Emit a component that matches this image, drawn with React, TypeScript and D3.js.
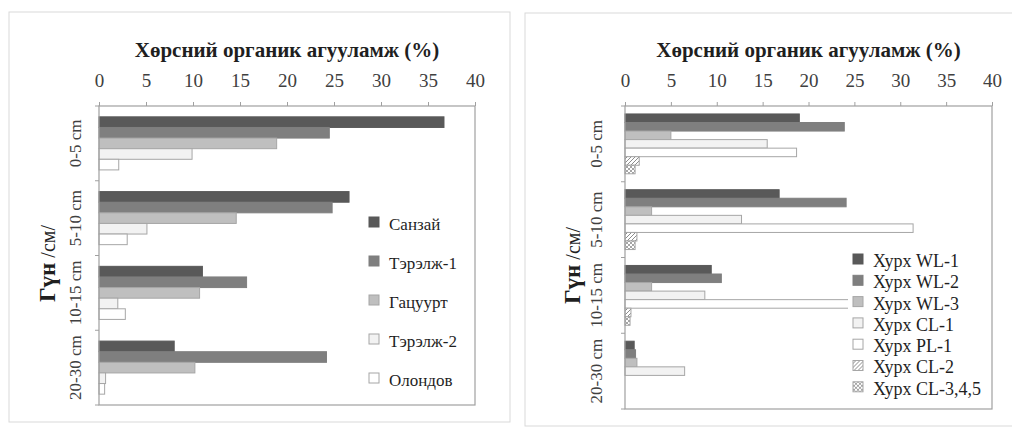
import { useEffect, useRef } from 'react';
import * as d3 from 'd3';

const depths = ['0-5 cm', '5-10 cm', '10-15 cm', '20-30 cm'];
const xTicks = [0, 5, 10, 15, 20, 25, 30, 35, 40];
const titleText = 'Хөрсний органик агууламж (%)';

// left chart
const leftNames = ['Санзай', 'Тэрэлж-1', 'Гацуурт', 'Тэрэлж-2', 'Олондов'];
const sanzai = [36.7, 26.6, 11.0, 8.0];
const terelj1 = [24.5, 24.8, 15.7, 24.2];
const gatsuurt = [18.9, 14.6, 10.7, 10.2];
const terelj2 = [9.9, 5.1, 2.0, 0.7];
const olondov = [2.1, 3.0, 2.8, 0.6];

// right chart
const rightNames = ['Хурх WL-1', 'Хурх WL-2', 'Хурх WL-3', 'Хурх CL-1', 'Хурх PL-1', 'Хурх CL-2', 'Хурх CL-3,4,5'];
const wl1 = [19.0, 16.8, 9.4, 1.0];
const wl2 = [23.9, 24.1, 10.5, 1.15];
const wl3 = [5.0, 2.9, 2.9, 1.3];
const cl1 = [15.5, 12.7, 8.7, 6.5];
const pl1 = [18.7, 31.4, 32.0, 0];
const cl2 = [1.55, 1.3, 0.65, 0];
const cl345 = [1.1, 1.1, 0.55, 0];

const fills = ['#595959', '#7f7f7f', '#bfbfbf', '#f2f2f2', '#ffffff', 'url(#hatch)', 'url(#checks)'];
const strokes = ['#595959', '#7f7f7f', '#a6a6a6', '#a6a6a6', '#a6a6a6', '#a6a6a6', '#a6a6a6'];

const font = 'Liberation Serif, Times New Roman, serif';

type PanelOpts = {
  box: [number, number, number, number];
  plot: [number, number, number, number];
  barSpan: number;
  names: string[];
  values: number[][];
  catX: number;
  titleX: number;
  legendX: number;
  legendTop: number;
  legendStep: number;
  legendFont: number;
  legendBg?: [number, number, number, number];
};

function drawPanel(svg: d3.Selection<SVGSVGElement, unknown, null, undefined>, o: PanelOpts) {
  const [pl, pt, pr, pb] = o.plot;
  const g = svg.append('g');

  // Panel frame
  g.append('rect')
    .attr('x', o.box[0])
    .attr('y', o.box[1])
    .attr('width', o.box[2] - o.box[0])
    .attr('height', o.box[3] - o.box[1])
    .attr('fill', '#fff')
    .attr('stroke', '#d9d9d9');

  // Title
  g.append('text')
    .attr('x', (pl + pr) / 2)
    .attr('y', 57)
    .attr('text-anchor', 'middle')
    .attr('font-family', font)
    .attr('font-weight', 'bold')
    .attr('font-size', 21)
    .attr('fill', '#1f1f1f')
    .text(titleText);

  const x = d3.scaleLinear().domain([0, 40]).range([pl, pr]);
  const y = d3.scaleBand().domain(depths).range([pt, pb]).padding(0);
  const bw = y.bandwidth();
  const pad = (bw * (1 - o.barSpan)) / 2;
  const inner = d3
    .scaleBand<number>()
    .domain(o.names.map((_, i) => i))
    .range([pad, bw - pad])
    .padding(0);

  // Bars
  o.values.forEach((series, j) => {
    g.append('g')
      .selectAll('rect')
      .data(series)
      .join('rect')
      .attr('x', x(0))
      .attr('y', (_, i) => (y(depths[i]) as number) + (inner(j) as number))
      .attr('width', (d) => x(d) - x(0))
      .attr('height', inner.bandwidth())
      .attr('fill', fills[j])
      .attr('stroke', (d) => (d > 0 ? strokes[j] : 'none'))
      .attr('stroke-width', 1);
  });

  // Plot frame
  g.append('rect')
    .attr('x', pl)
    .attr('y', pt)
    .attr('width', pr - pl)
    .attr('height', pb - pt)
    .attr('fill', 'none')
    .attr('stroke', '#a0a0a0')
    .attr('stroke-width', 1.2);

  // Top axis
  const ax = g
    .append('g')
    .attr('transform', `translate(0, ${pt})`)
    .call(d3.axisTop(x).tickValues(xTicks).tickSize(4).tickSizeOuter(0).tickPadding(15));
  ax.select('.domain').remove();
  ax.selectAll('line').attr('stroke', '#a0a0a0');
  ax.selectAll('text')
    .attr('font-family', font)
    .attr('font-size', 19)
    .attr('fill', '#404040');

  // Category boundary ticks
  const bounds = [...depths.map((d) => y(d) as number), pb];
  g.append('g')
    .selectAll('line')
    .data(bounds)
    .join('line')
    .attr('x1', pl - 4)
    .attr('x2', pl)
    .attr('y1', (d) => d)
    .attr('y2', (d) => d)
    .attr('stroke', '#a0a0a0');

  // Category labels
  g.append('g')
    .selectAll('text')
    .data(depths)
    .join('text')
    .attr('transform', (d) => `translate(${o.catX}, ${(y(d) as number) + bw / 2}) rotate(-90)`)
    .attr('text-anchor', 'middle')
    .attr('font-family', font)
    .attr('font-size', 17)
    .attr('fill', '#404040')
    .text((d) => d);

  // Y title
  const yt = g
    .append('text')
    .attr('transform', `translate(${o.titleX}, ${(pt + pb) / 2 + 8}) rotate(-90)`)
    .attr('text-anchor', 'middle')
    .attr('font-family', font)
    .attr('fill', '#1f1f1f');
  yt.append('tspan').attr('font-size', 23).attr('font-weight', 'bold').text('Гүн');
  yt.append('tspan').attr('font-size', 20).text(' /см/');

  // Legend
  if (o.legendBg) {
    const [lx, ly, lw, lh] = o.legendBg;
    g.append('rect').attr('x', lx).attr('y', ly).attr('width', lw).attr('height', lh).attr('fill', '#fff');
  }
  const lg = g
    .append('g')
    .selectAll('g')
    .data(o.names)
    .join('g')
    .attr('transform', (_, i) => `translate(${o.legendX}, ${o.legendTop + i * o.legendStep})`);
  lg.append('rect')
    .attr('x', 0)
    .attr('y', -7)
    .attr('width', 10)
    .attr('height', 10)
    .attr('fill', (_, i) => fills[i])
    .attr('stroke', (_, i) => strokes[i]);
  lg.append('text')
    .attr('x', 20)
    .attr('y', 0)
    .attr('dy', '0.33em')
    .attr('font-family', font)
    .attr('font-size', o.legendFont)
    .attr('fill', '#1f1f1f')
    .text((d) => d);
}

function App() {
  const ref = useRef<SVGSVGElement>(null);

  useEffect(() => {
    if (!ref.current) return;
    const svg = d3.select(ref.current);
    svg.selectAll('*').remove();

    const defs = svg.append('defs');
    const hatch = defs
      .append('pattern')
      .attr('id', 'hatch')
      .attr('patternUnits', 'userSpaceOnUse')
      .attr('width', 4)
      .attr('height', 4);
    hatch.append('rect').attr('width', 4).attr('height', 4).attr('fill', '#fff');
    hatch.append('path').attr('d', 'M-1,1 l2,-2 M0,4 l4,-4 M3,5 l2,-2').attr('stroke', '#8c8c8c').attr('stroke-width', 1);

    const checks = defs
      .append('pattern')
      .attr('id', 'checks')
      .attr('patternUnits', 'userSpaceOnUse')
      .attr('width', 4)
      .attr('height', 4);
    checks.append('rect').attr('width', 4).attr('height', 4).attr('fill', '#fff');
    checks.append('rect').attr('width', 2).attr('height', 2).attr('fill', '#a6a6a6');
    checks.append('rect').attr('x', 2).attr('y', 2).attr('width', 2).attr('height', 2).attr('fill', '#a6a6a6');

    drawPanel(svg, {
      box: [9, 12, 510, 422],
      plot: [99, 106, 475, 405],
      barSpan: 0.71,
      names: leftNames,
      values: [sanzai, terelj1, gatsuurt, terelj2, olondov],
      catX: 81,
      titleX: 55,
      legendX: 369,
      legendTop: 224,
      legendStep: 39,
      legendFont: 17,
    });

    drawPanel(svg, {
      box: [525, 13, 1030, 426],
      plot: [625, 106, 992, 409],
      barSpan: 0.79,
      names: rightNames,
      values: [wl1, wl2, wl3, cl1, pl1, cl2, cl345],
      catX: 602,
      titleX: 580,
      legendX: 853,
      legendTop: 261,
      legendStep: 21.3,
      legendFont: 18,
      legendBg: [848, 246, 142, 160],
    });
  }, []);

  return (
    <svg
      ref={ref}
      width={1012}
      height={430}
      style={{ position: 'absolute', left: 0, top: 0, background: '#fff' }}
    ></svg>
  );
}

export default App;
